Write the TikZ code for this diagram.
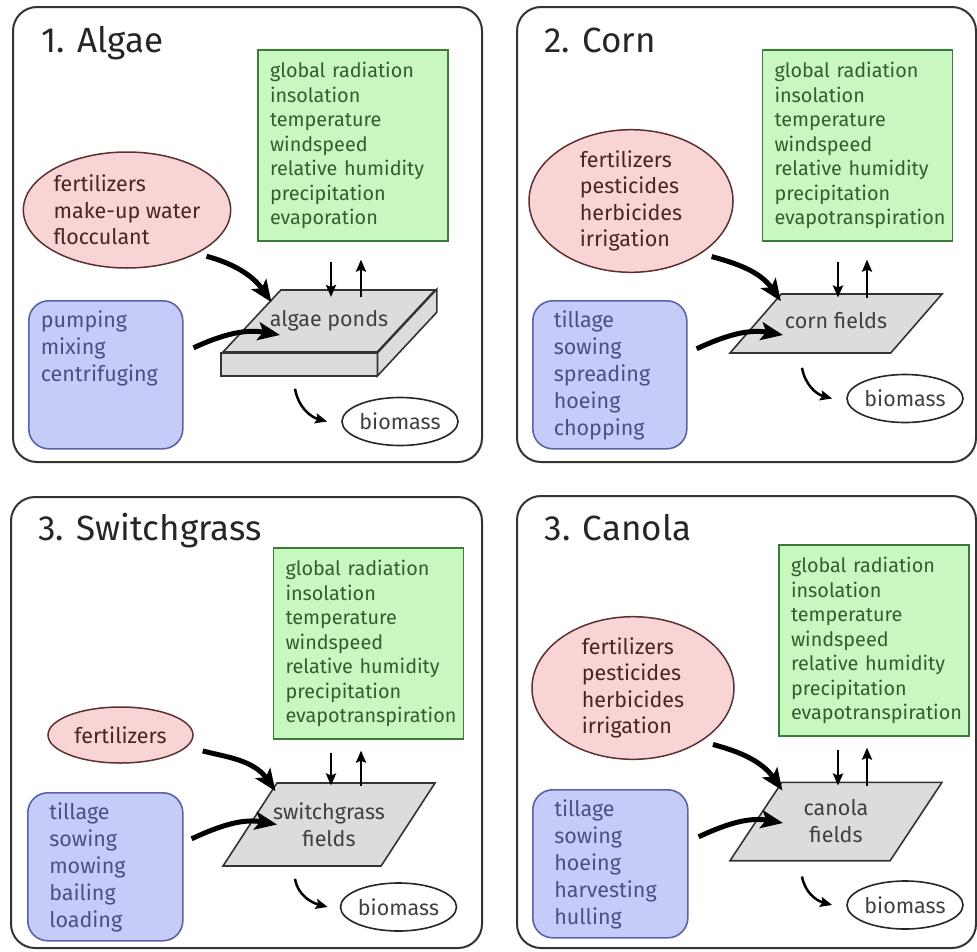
\documentclass[tikz,border=0pt]{standalone}
\usepackage{fontspec}
\setmainfont{Fira Sans}
\usepackage{tikz}
\usetikzlibrary{arrows.meta,shapes.geometric}
\definecolor{pinkfill}{HTML}{F9D4D4}
\definecolor{pinkline}{HTML}{5C3030}
\definecolor{pinktext}{HTML}{4A2424}
\definecolor{greenfill}{HTML}{C8F8C0}
\definecolor{greenline}{HTML}{3C7A3C}
\definecolor{greentext}{HTML}{2F5F2F}
\definecolor{bluefill}{HTML}{C6CCF8}
\definecolor{blueline}{HTML}{5A62A8}
\definecolor{bluetext}{HTML}{4C5080}
\definecolor{grayfill}{HTML}{DCDCDC}
\definecolor{grayline}{HTML}{333333}

\begin{document}
\begin{tikzpicture}[x=1pt, y=-1pt,
	panel/.style={draw=black!80, line width=2pt, rounded corners=24pt},
	title/.style={anchor=base west, text=black!85, font=\fontsize{35}{40}\selectfont},
	weather/.style={rectangle, draw=greenline, line width=1.6pt, fill=greenfill, text=greentext,
			text width=166pt, inner sep=12pt, align=left, minimum height=183pt, font=\fontsize{19.8}{24.5}\selectfont},
	inputs/.style={ellipse, draw=pinkline, line width=1.5pt, fill=pinkfill, text=pinktext,
			align=left, inner sep=0pt, font=\fontsize{21.5}{26.5}\selectfont},
	labour/.style={rectangle, rounded corners=20pt, draw=blueline, line width=1.6pt, fill=bluefill, text=bluetext,
			anchor=north west, inner xsep=0pt, inner ysep=10pt, font=\fontsize{21.5}{27}\selectfont,
			execute at begin node={\begin{minipage}[t][128pt][t]{#1}}, execute at end node={\end{minipage}}},
	labour/.default=112pt,
	field/.style={trapezium, trapezium stretches body=true, draw=grayline, line width=1.6pt, fill=grayfill,
			text=black!75, align=center, minimum width=212pt, inner xsep=-15pt, font=\fontsize{21.5}{27}\selectfont},
	product/.style={ellipse, draw=black!85, line width=1.6pt, fill=white, minimum width=116pt,
			minimum height=48pt, inner sep=0pt, text=black!75, font=\fontsize{21.5}{24}\selectfont},
	feed/.style={line width=5pt, -{Stealth[length=22pt,width=18pt,inset=5pt]}},
	flux/.style={line width=2.5pt, -{Stealth[length=12pt,width=10pt,inset=2pt]}}]

	\useasboundingbox (0,0) rectangle (977,951);

	% 1. Algae
	\draw[panel] (13,7) rectangle (482,462);
	\node[title] (t1) at (38,52) {1. Algae};
	\node[weather] (g1) at (353,145.5) {global radiation\\insolation\\temperature\\windspeed\\relative humidity\\precipitation\\evaporation};
	\node[inputs, minimum width=202pt, minimum height=116pt] (i1) at (127,210) {fertilizers\\make-up water\\flocculant};
	\node[labour=130pt, minimum width=154pt] (l1) at (28,300) {pumping\\mixing\\centrifuging};
	\node[field, trapezium left angle=47, trapezium right angle=133, text height=15pt, text depth=5pt, inner ysep=21pt] (f1) at (329,321) {algae ponds};
	\draw[line width=1.6pt, draw=grayline, fill=grayfill] (f1.bottom left corner) -- (f1.bottom right corner) -- ++(0,23) -- ([yshift=-23pt]f1.bottom left corner) -- cycle;
	\draw[line width=1.6pt, draw=grayline, fill=grayfill] (f1.bottom right corner) -- (f1.top right corner) -- ++(0,23) -- ([yshift=-23pt]f1.bottom right corner) -- cycle;
	\node[product] (b1) at (400,421.5) {biomass};
	\draw[feed, shorten <=10pt] (i1.-32) to[out=-15, in=125] ([xshift=-9pt,yshift=-13pt]f1.top left corner);
	\draw[feed] ([xshift=10pt,yshift=27pt]l1.east) to[out=25, in=170] ([xshift=-49pt,yshift=-14pt]f1.center);
	\draw[flux] ([xshift=2pt,yshift=-20pt]f1.center |- g1.south) -- ([xshift=2pt,yshift=24pt]f1.center);
	\draw[flux] ([xshift=32pt,yshift=24pt]f1.center) -- ([xshift=32pt,yshift=-18pt]f1.center |- g1.south);
	\draw[flux] ([xshift=-34pt,yshift=-36pt]f1.south) to[out=-80, in=165] ([xshift=-14pt]b1.west);

	% 2. Corn
	\draw[panel] (517,7) rectangle (976,462);
	\node[title] (t2) at (541,52) {2. Corn};
	\node[weather] (g2) at (857.5,145.5) {global radiation\\insolation\\temperature\\windspeed\\relative humidity\\precipitation\\evapotranspiration};
	\node[inputs, minimum width=204pt, minimum height=136pt] (i2) at (631,201) {fertilizers\\pesticides\\herbicides\\irrigation};
	\node[labour, minimum width=154pt] (l2) at (532,300) {tillage\\sowing\\spreading\\hoeing\\chopping};
	\node[field, trapezium left angle=49, trapezium right angle=131, text height=15pt, text depth=5pt, inner ysep=19.5pt] (f2) at (836,323.5) {corn fields};
	\node[product] (b2) at (905,398.5) {biomass};
	\draw[feed, shorten <=11pt] (i2.-37) to[out=-15, in=125] ([yshift=-8pt]f2.top left corner);
	\draw[feed] ([xshift=9pt,yshift=26pt]l2.east) to[out=25, in=170] ([xshift=-53pt,yshift=-11.5pt]f2.center);
	\draw[flux] ([xshift=2pt,yshift=-20pt]f2.center |- g2.south) -- ([xshift=2pt,yshift=26pt]f2.center);
	\draw[flux] ([xshift=31pt,yshift=26pt]f2.center) -- ([xshift=31pt,yshift=-18pt]f2.center |- g2.south);
	\draw[flux] ([xshift=-34pt,yshift=-14pt]f2.south) to[out=-80, in=165] ([xshift=-14pt]b2.west);

	% 3. Switchgrass
	\draw[panel] (11,497) rectangle (482,948);
	\node[title] (t3) at (35,540) {3. Switchgrass};
	\node[weather] (g3) at (368.5,643.5) {global radiation\\insolation\\temperature\\windspeed\\relative humidity\\precipitation\\evapotranspiration};
	\node[inputs, minimum width=145pt, minimum height=56pt] (i3) at (120.5,735) {fertilizers};
	\node[labour, minimum width=155pt] (l3) at (27,792) {tillage\\sowing\\mowing\\bailing\\loading};
	\node[field, trapezium left angle=57, trapezium right angle=123, inner ysep=19.5pt] (f3) at (329,824.5) {switchgrass\\fields};
	\node[product] (b3) at (398.5,907) {biomass};
	\draw[feed, shorten <=16pt] (i3.-10) to[out=-15, in=125] ([xshift=-1pt,yshift=-9pt]f3.top left corner);
	\draw[feed] ([xshift=8pt,yshift=28pt]l3.east) to[out=25, in=170] ([xshift=-52pt]f3.center);
	\draw[flux] ([xshift=2pt,yshift=-13pt]f3.center |- g3.south) -- ([xshift=2pt,yshift=39pt]f3.center);
	\draw[flux] ([xshift=32pt,yshift=39pt]f3.center) -- ([xshift=32pt,yshift=-11pt]f3.center |- g3.south);
	\draw[flux] ([xshift=-34pt,yshift=-12pt]f3.south) to[out=-80, in=165] ([xshift=-12pt]b3.west);

	% 3. Canola
	\draw[panel] (517,496) rectangle (976,948);
	\node[title] (t4) at (541,540) {3. Canola};
	\node[weather] (g4) at (874,640.5) {global radiation\\insolation\\temperature\\windspeed\\relative humidity\\precipitation\\evapotranspiration};
	\node[inputs, minimum width=202pt, minimum height=138pt] (i4) at (633,688) {fertilizers\\pesticides\\herbicides\\irrigation};
	\node[labour, minimum width=155pt] (l4) at (532,789) {tillage\\sowing\\hoeing\\harvesting\\hulling};
	\node[field, trapezium left angle=56.5, trapezium right angle=123.5, inner ysep=17.5pt] (f4) at (836,821.5) {canola\\fields};
	\node[product] (b4) at (905,905) {biomass};
	\draw[feed, shorten <=12pt] (i4.-38) to[out=-15, in=125] ([xshift=1pt,yshift=-9pt]f4.top left corner);
	\draw[feed] ([xshift=10pt,yshift=27pt]l4.east) to[out=25, in=170] ([xshift=-53pt,yshift=-1.5pt]f4.center);
	\draw[flux] ([xshift=2pt,yshift=-13pt]f4.center |- g4.south) -- ([xshift=2pt,yshift=36pt]f4.center);
	\draw[flux] ([xshift=31pt,yshift=36pt]f4.center) -- ([xshift=31pt,yshift=-11pt]f4.center |- g4.south);
	\draw[flux] ([xshift=-34pt,yshift=-15pt]f4.south) to[out=-80, in=165] ([xshift=-14pt]b4.west);
\end{tikzpicture}
\end{document}
